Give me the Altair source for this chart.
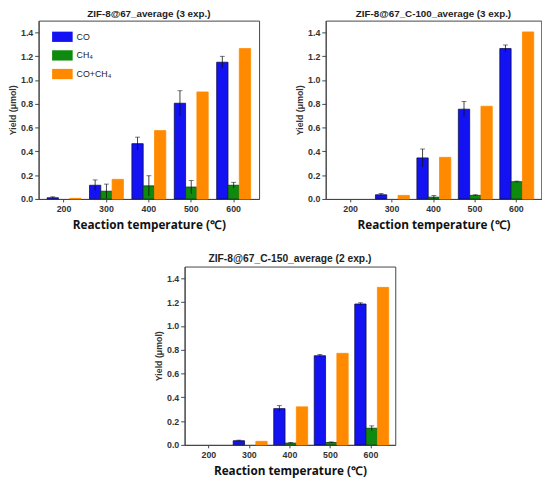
import altair as alt
import pandas as pd

temps = [200, 300, 400, 500, 600]
series = ["CO", "CH₄", "CO+CH₄"]

titles = [
    "ZIF-8@67_average (3 exp.)",
    "ZIF-8@67_C-100_average (3 exp.)",
    "ZIF-8@67_C-150_average (2 exp.)",
]

co_1 = [0.01, 0.115, 0.465, 0.805, 1.15]
co_err_1 = [0.008, 0.045, 0.055, 0.105, 0.05]
ch4_1 = [0.0, 0.065, 0.11, 0.10, 0.115]
ch4_err_1 = [0.0, 0.06, 0.085, 0.055, 0.025]
tot_1 = [0.005, 0.165, 0.575, 0.90, 1.265]

co_2 = [0.0, 0.035, 0.345, 0.755, 1.265]
co_err_2 = [0.0, 0.01, 0.075, 0.065, 0.03]
ch4_2 = [0.0, 0.0, 0.015, 0.03, 0.145]
ch4_err_2 = [0.0, 0.0, 0.015, 0.005, 0.005]
tot_2 = [0.0, 0.03, 0.35, 0.78, 1.405]

co_3 = [0.0, 0.035, 0.305, 0.75, 1.185]
co_err_3 = [0.0, 0.005, 0.025, 0.01, 0.01]
ch4_3 = [0.0, 0.0, 0.015, 0.02, 0.14]
ch4_err_3 = [0.0, 0.0, 0.005, 0.005, 0.02]
tot_3 = [0.0, 0.03, 0.32, 0.77, 1.325]

yticks = [0.0, 0.2, 0.4, 0.6, 0.8, 1.0, 1.2, 1.4]

fills = ["#1212F2", "#0E8A0E", "#FF8A00"]
strokes = ["#10104A", "#0A3A0A", "#FF8A00"]

LAB_FONT = "Liberation Sans"


def panel(title, co, co_err, ch4, ch4_err, tot, width, height, title_size):
    rows = []
    for i, t in enumerate(temps):
        rows.append(dict(temp=t, series=series[0], value=co[i], err=co_err[i]))
        rows.append(dict(temp=t, series=series[1], value=ch4[i], err=ch4_err[i]))
        rows.append(dict(temp=t, series=series[2], value=tot[i], err=0.0))
    df = pd.DataFrame(rows)
    df["lo"] = (df["value"] - df["err"]).clip(lower=0)
    df["hi"] = df["value"] + df["err"]

    base = alt.Chart(df)
    x = alt.X(
        "temp:O",
        title="Reaction temperature (℃)",
        scale=alt.Scale(domain=temps, paddingInner=0.2, paddingOuter=0.2),
        axis=alt.Axis(
            labelAngle=0,
            labelFont=LAB_FONT,
            labelFontSize=9,
            labelFontWeight="bold",
            labelColor="#333",
            labelPadding=3,
            tickSize=3,
            titleFont="Open Sans",
            titleFontSize=12,
            titleFontWeight="bold",
            titleColor="#111",
            titlePadding=6,
        ),
    )
    xo = alt.XOffset(
        "series:N", sort=series, scale=alt.Scale(domain=series, paddingInner=0, paddingOuter=0)
    )
    yaxis = alt.Axis(
        values=yticks,
        format=".1f",
        labelOverlap=False,
        labelSeparation=0,
        labelFont=LAB_FONT,
        labelFontSize=9,
        labelFontWeight="bold",
        labelColor="#333",
        labelPadding=2,
        tickSize=4,
        titleFont=LAB_FONT,
        titleFontSize=9,
        titleFontWeight="bold",
        titleColor="#333",
        titlePadding=3,
    )
    yscale = alt.Scale(domain=[0, 1.5], nice=False)
    ytitle = "Yield (μmol)"

    bars = base.transform_filter("datum.value > 0").mark_bar(strokeWidth=0.8).encode(
        x=x,
        xOffset=xo,
        y=alt.Y("value:Q", title=ytitle, scale=yscale, axis=yaxis),
        fill=alt.Fill(
            "series:N",
            sort=series,
            scale=alt.Scale(domain=series, range=fills),
            legend=alt.Legend(
                orient="none",
                legendX=19,
                legendY=11,
                title=None,
                symbolType="M-2,-1H2V1H-2Z",
                symbolSize=110,
                symbolStrokeWidth=0,
                labelFont=LAB_FONT,
                labelFontSize=9,
                labelColor="#222",
                labelOffset=9,
                rowPadding=8,
            ),
        ),
        stroke=alt.Stroke(
            "series:N", sort=series, scale=alt.Scale(domain=series, range=strokes), legend=None
        ),
    )
    errs = base.transform_filter("datum.err > 0")
    rule = errs.mark_rule(color="#111", strokeWidth=0.8).encode(
        x=x,
        xOffset=xo,
        y=alt.Y("lo:Q", title=ytitle, scale=yscale, axis=yaxis),
        y2="hi:Q",
    )
    cap = errs.mark_tick(color="#111", thickness=0.8, size=5).encode(
        x=x,
        xOffset=xo,
        y=alt.Y("hi:Q", title=ytitle, scale=yscale, axis=yaxis),
    )
    return alt.layer(bars, rule, cap).properties(
        width=width,
        height=height,
        title=alt.TitleParams(
            title,
            font=LAB_FONT,
            fontSize=title_size,
            fontWeight="bold",
            color="#222",
            offset=2,
        ),
    )


p1 = panel(titles[0], co_1, co_err_1, ch4_1, ch4_err_1, tot_1, 225, 182, 10)
p2 = panel(titles[1], co_2, co_err_2, ch4_2, ch4_err_2, tot_2, 220, 182, 10)
p3 = panel(titles[2], co_3, co_err_3, ch4_3, ch4_err_3, tot_3, 215, 182, 10.5)

chart = (
    alt.vconcat(alt.hconcat(p1, p2, spacing=35), p3, spacing=23, center=True)
    .properties(padding={"left": 0, "top": -5, "right": 0, "bottom": 0})
    .configure_view(stroke="#444", strokeWidth=1)
    .configure_axis(grid=False, domainColor="#444", tickColor="#444", domainWidth=1)
)

chart.save("out.html", embed_options={"renderer": "svg", "actions": False})
